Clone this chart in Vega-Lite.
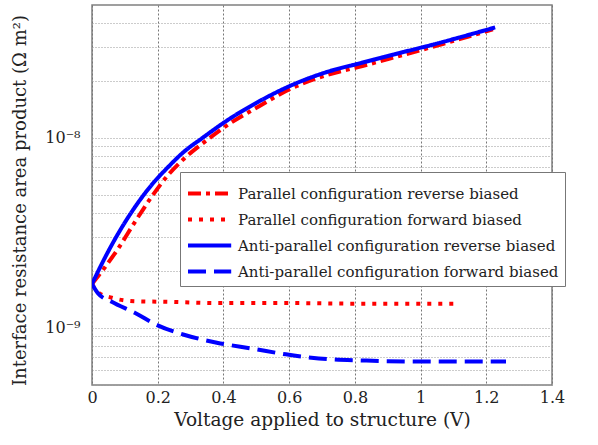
{
  "$schema": "https://vega.github.io/schema/vega-lite/v6.json",
  "width": 460,
  "height": 380,
  "autosize": {"type": "none"},
  "padding": {"left": 92, "top": 5, "right": 46, "bottom": 60},
  "background": "white",
  "config": {
    "font": "DejaVu Serif",
    "view": {"stroke": "#808080", "strokeWidth": 1.5},
    "axis": {"labelFont": "DejaVu Serif", "titleFont": "DejaVu Serif", "labelColor": "#222", "titleColor": "#222", "titleFontWeight": "normal", "domain": false, "ticks": false}
  },
  "data": {"values": [
    {"series": "Parallel configuration reverse biased", "x": 0, "y": 1.70e-9},
    {"series": "Parallel configuration reverse biased", "x": 0.04, "y": 2.09e-9},
    {"series": "Parallel configuration reverse biased", "x": 0.08, "y": 2.62e-9},
    {"series": "Parallel configuration reverse biased", "x": 0.13, "y": 3.59e-9},
    {"series": "Parallel configuration reverse biased", "x": 0.18, "y": 4.85e-9},
    {"series": "Parallel configuration reverse biased", "x": 0.23, "y": 6.32e-9},
    {"series": "Parallel configuration reverse biased", "x": 0.28, "y": 7.76e-9},
    {"series": "Parallel configuration reverse biased", "x": 0.335, "y": 9.30e-9},
    {"series": "Parallel configuration reverse biased", "x": 0.41, "y": 1.16e-8},
    {"series": "Parallel configuration reverse biased", "x": 0.51, "y": 1.47e-8},
    {"series": "Parallel configuration reverse biased", "x": 0.61, "y": 1.83e-8},
    {"series": "Parallel configuration reverse biased", "x": 0.715, "y": 2.14e-8},
    {"series": "Parallel configuration reverse biased", "x": 0.82, "y": 2.38e-8},
    {"series": "Parallel configuration reverse biased", "x": 0.92, "y": 2.65e-8},
    {"series": "Parallel configuration reverse biased", "x": 1.03, "y": 2.99e-8},
    {"series": "Parallel configuration reverse biased", "x": 1.22, "y": 3.72e-8},
    {"series": "Parallel configuration forward biased", "x": 0, "y": 1.70e-9},
    {"series": "Parallel configuration forward biased", "x": 0.018, "y": 1.54e-9},
    {"series": "Parallel configuration forward biased", "x": 0.06, "y": 1.44e-9},
    {"series": "Parallel configuration forward biased", "x": 0.13, "y": 1.38e-9},
    {"series": "Parallel configuration forward biased", "x": 0.23, "y": 1.37e-9},
    {"series": "Parallel configuration forward biased", "x": 0.38, "y": 1.35e-9},
    {"series": "Parallel configuration forward biased", "x": 0.59, "y": 1.35e-9},
    {"series": "Parallel configuration forward biased", "x": 0.8, "y": 1.34e-9},
    {"series": "Parallel configuration forward biased", "x": 1.12, "y": 1.34e-9},
    {"series": "Anti-parallel configuration reverse biased", "x": 0, "y": 1.70e-9},
    {"series": "Anti-parallel configuration reverse biased", "x": 0.04, "y": 2.35e-9},
    {"series": "Anti-parallel configuration reverse biased", "x": 0.08, "y": 3.14e-9},
    {"series": "Anti-parallel configuration reverse biased", "x": 0.13, "y": 4.30e-9},
    {"series": "Anti-parallel configuration reverse biased", "x": 0.18, "y": 5.61e-9},
    {"series": "Anti-parallel configuration reverse biased", "x": 0.23, "y": 6.97e-9},
    {"series": "Anti-parallel configuration reverse biased", "x": 0.28, "y": 8.45e-9},
    {"series": "Anti-parallel configuration reverse biased", "x": 0.335, "y": 9.95e-9},
    {"series": "Anti-parallel configuration reverse biased", "x": 0.41, "y": 1.23e-8},
    {"series": "Anti-parallel configuration reverse biased", "x": 0.51, "y": 1.56e-8},
    {"series": "Anti-parallel configuration reverse biased", "x": 0.61, "y": 1.90e-8},
    {"series": "Anti-parallel configuration reverse biased", "x": 0.715, "y": 2.22e-8},
    {"series": "Anti-parallel configuration reverse biased", "x": 0.82, "y": 2.48e-8},
    {"series": "Anti-parallel configuration reverse biased", "x": 0.92, "y": 2.75e-8},
    {"series": "Anti-parallel configuration reverse biased", "x": 1.03, "y": 3.07e-8},
    {"series": "Anti-parallel configuration reverse biased", "x": 1.227, "y": 3.81e-8},
    {"series": "Anti-parallel configuration forward biased", "x": 0, "y": 1.70e-9},
    {"series": "Anti-parallel configuration forward biased", "x": 0.018, "y": 1.52e-9},
    {"series": "Anti-parallel configuration forward biased", "x": 0.06, "y": 1.37e-9},
    {"series": "Anti-parallel configuration forward biased", "x": 0.13, "y": 1.20e-9},
    {"series": "Anti-parallel configuration forward biased", "x": 0.2, "y": 1.03e-9},
    {"series": "Anti-parallel configuration forward biased", "x": 0.28, "y": 9.19e-10},
    {"series": "Anti-parallel configuration forward biased", "x": 0.38, "y": 8.35e-10},
    {"series": "Anti-parallel configuration forward biased", "x": 0.49, "y": 7.76e-10},
    {"series": "Anti-parallel configuration forward biased", "x": 0.59, "y": 7.25e-10},
    {"series": "Anti-parallel configuration forward biased", "x": 0.69, "y": 6.90e-10},
    {"series": "Anti-parallel configuration forward biased", "x": 0.835, "y": 6.72e-10},
    {"series": "Anti-parallel configuration forward biased", "x": 0.97, "y": 6.65e-10},
    {"series": "Anti-parallel configuration forward biased", "x": 1.26, "y": 6.64e-10}
  ]},
  "mark": {"type": "line", "strokeWidth": 4, "clip": true, "interpolate": "monotone"},
  "encoding": {
    "x": {
      "field": "x", "type": "quantitative",
      "scale": {"domain": [0, 1.4], "nice": false},
      "axis": {
        "values": [0, 0.2, 0.4, 0.6, 0.8, 1, 1.2, 1.4],
        "labelExpr": "datum.value == 0 ? '0' : datum.value == 1 ? '1' : format(datum.value, '.1f')",
        "labelFontSize": 16, "labelPadding": 4, "labelFlush": false,
        "grid": true, "gridColor": "#777", "gridDash": [2, 2], "gridWidth": 1,
        "title": "Voltage applied to structure (V)", "titleFontSize": 18.5, "titleY": 25, "titleBaseline": "top"
      }
    },
    "y": {
      "field": "y", "type": "quantitative",
      "scale": {"type": "log", "domain": [5e-10, 5e-8], "nice": false},
      "axis": {
        "values": [5e-10, 6e-10, 7e-10, 8e-10, 9e-10, 1e-9, 2e-9, 3e-9, 4e-9, 5e-9, 6e-9, 7e-9, 8e-9, 9e-9, 1e-8, 2e-8, 3e-8, 4e-8],
        "labelExpr": "abs(datum.value - 1e-9) < 1e-12 ? '10⁻⁹' : abs(datum.value - 1e-8) < 1e-11 ? '10⁻⁸' : ''",
        "labelFontSize": 16, "labelPadding": 12,
        "grid": true, "gridColor": "#999", "gridDash": [1, 2], "gridWidth": 1,
        "title": "Interface resistance area product (Ω  m²)", "titleFontSize": 18, "titleX": -72, "titleY": 195, "titleAngle": -90, "titleBaseline": "middle", "titleAlign": "center"
      }
    },
    "color": {
      "field": "series", "type": "nominal",
      "scale": {
        "domain": ["Parallel configuration reverse biased", "Parallel configuration forward biased", "Anti-parallel configuration reverse biased", "Anti-parallel configuration forward biased"],
        "range": ["#ff0000", "#ff0000", "#0000ff", "#0000ff"]
      },
      "legend": {
        "title": null, "orient": "none", "legendX": 88, "legendY": 167,
        "fillColor": "white", "strokeColor": "#777", "padding": 6,
        "labelFont": "DejaVu Serif", "labelFontSize": 15, "labelColor": "#222", "labelLimit": 400,
        "symbolType": "M-1,0L2.2,0", "symbolSize": 729, "symbolStrokeWidth": 4, "labelOffset": 21, "rowPadding": 2
      }
    },
    "strokeDash": {
      "field": "series", "type": "nominal",
      "scale": {
        "domain": ["Parallel configuration reverse biased", "Parallel configuration forward biased", "Anti-parallel configuration reverse biased", "Anti-parallel configuration forward biased"],
        "range": [[13, 5, 4, 5], [4, 7], [1, 0], [18, 8]]
      },
      "legend": null
    }
  }
}
